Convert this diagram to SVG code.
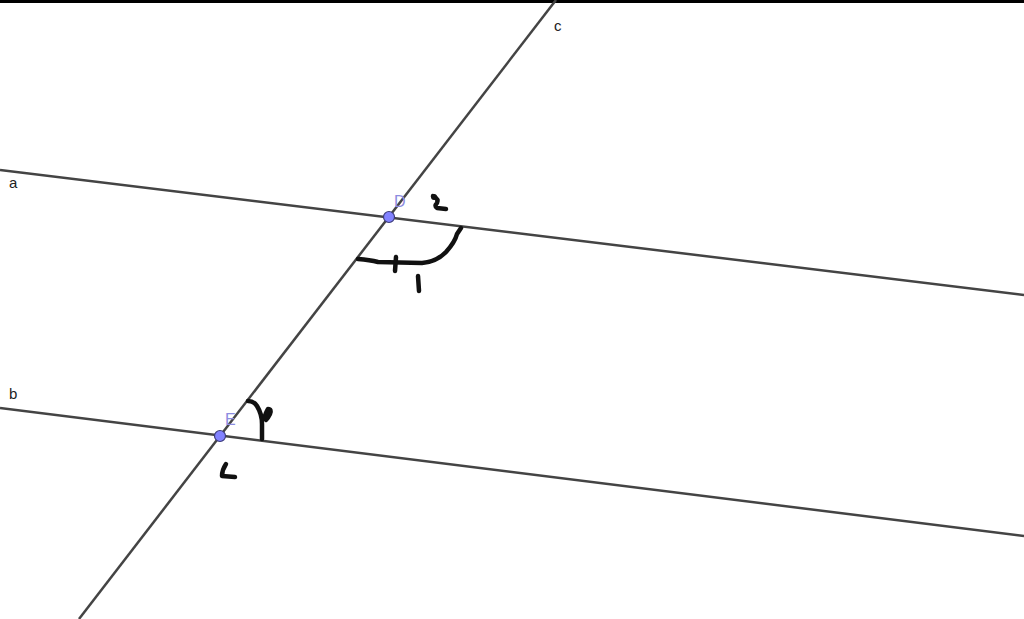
<svg xmlns="http://www.w3.org/2000/svg" width="1024" height="619" viewBox="0 0 1024 619">
<style>
.ln{stroke:#444;stroke-width:2.5;fill:none}
.ink{stroke:#111;stroke-width:4.5;fill:none;stroke-linecap:round;stroke-linejoin:round}
.lbl{font-family:"Liberation Sans",Arial,sans-serif;font-size:15px;fill:#222}
.pl{font-family:"Liberation Sans",Arial,sans-serif;font-size:16px;fill:#8c8ce0}
.pt{fill:#8282ff;stroke:#3c3c78;stroke-width:1.2}
</style>
<rect width="1024" height="619" fill="#fff"/>
<rect x="0" y="0" width="1024" height="3" fill="#000"/>
<g id="connectors">
<line class="ln" x1="0" y1="170" x2="1024" y2="295"/>
<line class="ln" x1="0" y1="408" x2="1024" y2="536"/>
<line class="ln" x1="556" y1="0" x2="79" y2="619"/>
</g>
<g id="labels">
<text class="lbl" x="9" y="188">a</text>
<text class="lbl" x="9" y="399">b</text>
<text class="lbl" x="554" y="31">c</text>
</g>
<g id="D">
<circle class="pt" cx="389" cy="217" r="5.5"/>
<text class="pl" x="394" y="207">D</text>
</g>
<g id="E">
<circle class="pt" cx="220" cy="436" r="5.5"/>
<text class="pl" x="225" y="425">E</text>
</g>
<g id="ink">
<circle cx="434" cy="197" r="3" fill="#111"/>
<path class="ink" d="M433,196 Q439,199 437,203 Q434,206 437,208 L446,209"/>
<path class="ink" d="M358,259 Q370,260 378,262 L422,263 Q436,262 446,252 Q455,242 457,234 L461,228"/>
<path class="ink" d="M396,257 L395,271"/>
<path class="ink" d="M418,276 L419,291"/>
<path class="ink" d="M248,401 Q254,401 257,406 Q262,414 262,424 L262,439"/>
<path class="ink" d="M264,419 Q266,412 268,409 Q272,409 270,414 Q268,418 266,420"/>
<path class="ink" d="M226,464 Q222,470 222,476 L235,477"/>
</g>
</svg>
